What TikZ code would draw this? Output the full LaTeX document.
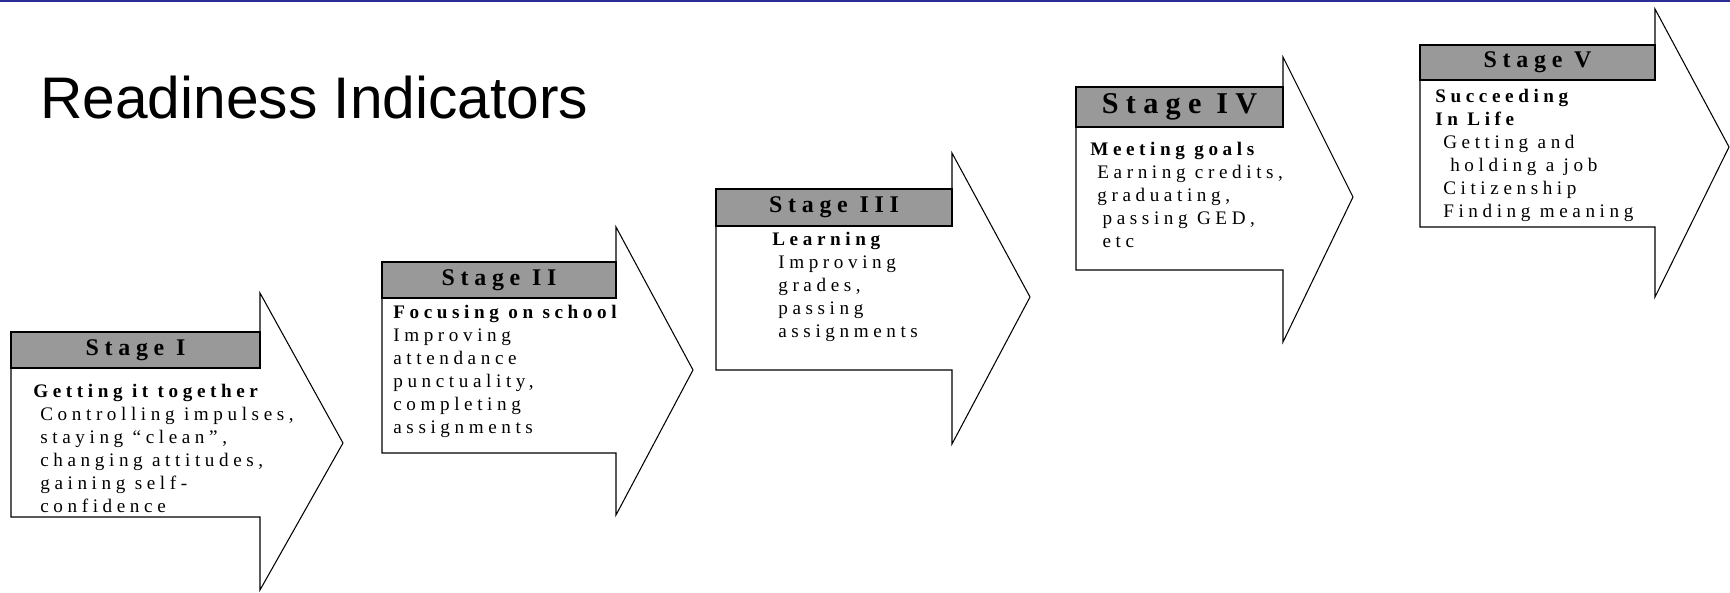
\documentclass[tikz,border=0pt]{standalone}
\usepackage{fontspec}
\setmainfont{Liberation Serif}
\newfontfamily\stagefont[LetterSpace=24]{Liberation Serif}
\newfontfamily\titlefont{Liberation Sans}
\usepackage{xcolor}
\definecolor{headgray}{RGB}{153,153,153}
\definecolor{topblue}{RGB}{44,44,150}

\begin{document}
\begin{tikzpicture}[x=0.02cm,y=-0.02cm]
    \tikzset{arrowline/.style={black,line width=0.6pt},
             stagelabel/.style={inner sep=0pt,font=\stagefont\fontsize{13.6}{15}\selectfont\bfseries},
             stagetext/.style={anchor=north west,inner sep=0pt,align=left,
                    font=\stagefont\fontsize{10.9}{13.1}\selectfont}}
    \useasboundingbox (0,0) rectangle (1730,592);
    \draw[topblue,line width=1.2pt] (0,1) -- (1730,1);
    \node[anchor=base west,inner sep=0pt,font=\titlefont\fontsize{33.4}{38}\selectfont]
        (title) at (40,118) {Readiness Indicators};
    % arrows: left, header top/bottom, body bottom, head x, head top/bottom, tip
    \foreach \st/\xl/\ytop/\ymid/\ybot/\xh/\yup/\ydn/\xtip/\ytip/\lab in {
        1/11/332/368/517/260/293/590/343/443/{Stage I},
        2/382/262/298/453/616/227/515/693/370/{Stage II},
        3/716/189/226/370/952/153/444/1030/297/{Stage III},
        4/1076/87/127/270/1283/57/342/1353/197/{\fontsize{17.2}{19}\selectfont Stage IV},
        5/1420/45/80/227/1655/9/297/1729/147/{Stage V}}{
        \draw[arrowline] (\xl,\ymid) -- (\xl,\ybot) -- (\xh,\ybot) -- (\xh,\ydn)
            -- (\xtip,\ytip) -- (\xh,\yup) -- (\xh,\ytop);
        \draw[arrowline,fill=headgray] (\xl,\ytop) rectangle (\xh,\ymid);
        \node[stagelabel] (hdr\st) at ({(\xl+\xh)/2},{(\ytop+\ymid)/2}) {\lab};
    }
    \node[stagetext] (txt1) at (33,384) {\textbf{Getting it together}\\
        \hspace*{4pt}Controlling impulses,\\ \hspace*{4pt}staying “clean”,\\
        \hspace*{4pt}changing attitudes,\\ \hspace*{4pt}gaining self-\\
        \hspace*{4pt}confidence};
    \node[stagetext] (txt2) at (393,305) {\textbf{Focusing on school}\\
        Improving\\ attendance\\ punctuality,\\ completing\\ assignments};
    \node[stagetext] (txt3) at (772,232) {\textbf{Learning}\\
        \hspace*{3.4pt}Improving\\ \hspace*{3.4pt}grades,\\
        \hspace*{3.4pt}passing\\ \hspace*{3.4pt}assignments};
    \node[stagetext] (txt4) at (1090,142) {\textbf{Meeting goals}\\
        \hspace*{4pt}Earning credits,\\ \hspace*{4pt}graduating,\\
        \hspace*{7pt}passing GED,\\ \hspace*{7pt}etc};
    \node[stagetext] (txt5) at (1435,89) {\textbf{Succeeding}\\ \textbf{In Life}\\
        \hspace*{4.5pt}Getting and\\ \hspace*{8.5pt}holding a job\\
        \hspace*{4.5pt}Citizenship\\ \hspace*{4.5pt}Finding meaning};
\end{tikzpicture}
\end{document}
